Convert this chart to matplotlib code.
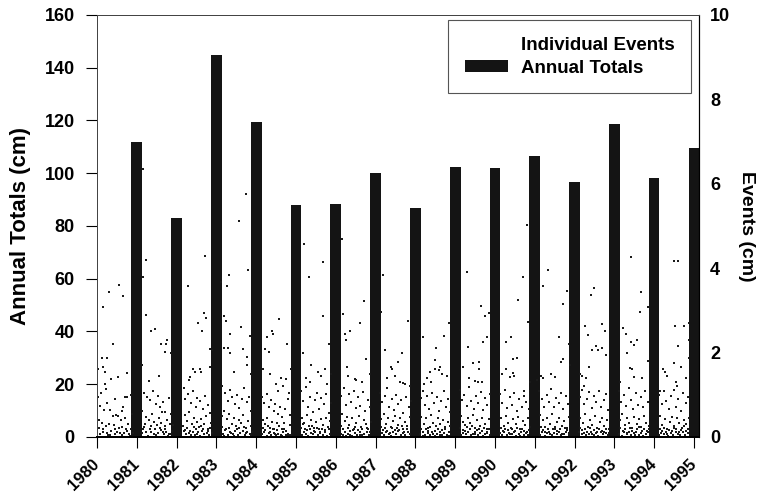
import matplotlib
matplotlib.use('Agg')
import matplotlib.pyplot as plt
from matplotlib.patches import Patch
from matplotlib.lines import Line2D

plt.rcParams['font.family'] = ['Liberation Sans', 'DejaVu Sans']
plt.rcParams['font.weight'] = 'bold'

# annual snowfall totals (cm), plotted at the end of each year
bar_years = [1981, 1982, 1983, 1984, 1985, 1986, 1987, 1988,
             1989, 1990, 1991, 1992, 1993, 1994, 1995]
annual_totals = [112, 83, 145, 119.5, 88, 88.5, 100, 87,
                 102.5, 102, 106.5, 96.5, 118.5, 98, 109.5]

# individual events: (fraction of year, depth in cm)
ev_1980 = [(0.15,3.08),(0.30,3.44),(0.55,3.60),(0.65,3.34),(0.40,2.20),(0.12,1.88),(0.26,1.87),
           (0.02,1.62),(0.15,1.66),(0.20,1.55),(0.75,1.52),(0.53,1.42),(0.36,1.38),(0.20,1.25),
           (0.22,1.14),(0.70,0.95),(0.75,0.94),(0.08,0.74),(0.18,0.64),(0.26,0.80),(0.32,0.64),
           (0.40,0.50),(0.48,0.52),(0.52,0.50),(0.60,0.40),(0.66,0.72),(0.70,0.45),(0.78,0.30),
           (0.05,0.40),(0.12,0.33),(0.22,0.26),(0.30,0.30),(0.42,0.28),(0.55,0.22),(0.08,0.07),
           (0.16,0.12),(0.28,0.05),(0.36,0.15),(0.46,0.08),(0.58,0.10),(0.64,0.04),(0.72,0.18),
           (0.80,0.06),(0.86,0.20),(0.88,0.55),(0.85,1.00),(0.03,0.95),(0.10,1.05),(0.45,0.90),
           (0.62,0.62),(0.06,0.22),(0.14,0.18),(0.24,0.10),(0.33,0.04),(0.44,0.20),(0.50,0.12),
           (0.62,0.24),(0.68,0.09),(0.76,0.14),(0.84,0.03),(0.90,0.10)]
ev_1981 = [(0.16,6.35),(0.22,4.20),(0.16,3.80),(0.24,2.90),(0.46,2.55),(0.36,2.50),(0.62,2.20),
           (0.70,2.02),(0.74,2.20),(0.77,2.30),(0.12,1.70),(0.30,1.32),(0.55,1.45),(0.85,2.00),
           (0.18,1.05),(0.25,0.95),(0.33,0.88),(0.40,1.10),(0.48,0.78),(0.52,0.98),(0.58,0.70),
           (0.66,0.82),(0.72,0.60),(0.80,0.92),(0.86,0.55),(0.14,0.62),(0.22,0.48),(0.30,0.40),
           (0.38,0.55),(0.44,0.35),(0.50,0.28),(0.56,0.45),(0.62,0.32),(0.70,0.25),(0.76,0.40),
           (0.84,0.30),(0.16,0.20),(0.24,0.12),(0.32,0.18),(0.42,0.08),(0.46,0.20),(0.54,0.10),
           (0.60,0.16),(0.68,0.06),(0.74,0.12),(0.82,0.08),(0.88,0.15),(0.20,0.30),(0.36,0.25),
           (0.64,0.60),(0.13,0.09),(0.19,0.24),(0.28,0.03),(0.35,0.11),(0.49,0.05),(0.58,0.22),
           (0.65,0.13),(0.71,0.18),(0.79,0.03),(0.86,0.06),(0.90,0.28)]
ev_1982 = [(0.28,3.58),(0.72,4.30),(0.69,2.93),(0.74,2.82),(0.54,2.70),(0.64,2.50),(0.83,2.08),
           (0.40,1.60),(0.46,1.55),(0.58,1.60),(0.62,1.55),(0.34,1.43),(0.30,1.35),(0.88,2.05),
           (0.85,1.65),(0.18,1.15),(0.22,0.90),(0.28,1.02),(0.36,0.80),(0.42,1.08),(0.48,0.70),
           (0.52,0.92),(0.60,0.85),(0.66,0.66),(0.72,0.98),(0.78,0.75),(0.84,0.58),(0.20,0.52),
           (0.26,0.38),(0.32,0.60),(0.38,0.30),(0.44,0.46),(0.50,0.36),(0.56,0.24),(0.62,0.42),
           (0.68,0.30),(0.74,0.50),(0.80,0.20),(0.86,0.34),(0.18,0.14),(0.24,0.06),(0.30,0.10),
           (0.36,0.04),(0.40,0.12),(0.46,0.05),(0.52,0.08),(0.58,0.03),(0.64,0.14),(0.70,0.06),
           (0.76,0.10),(0.82,0.04),(0.88,0.09),(0.15,0.25),(0.21,0.17),(0.27,0.21),(0.33,0.15),
           (0.43,0.23),(0.49,0.18),(0.55,0.12),(0.61,0.26),(0.67,0.19),(0.79,0.14),(0.85,0.22)]
ev_1983 = [(0.12,3.67),(0.27,3.58),(0.31,3.84),(0.58,5.12),(0.75,5.76),(0.80,3.96),(0.20,2.87),
           (0.25,2.75),(0.33,2.44),(0.18,2.10),(0.30,2.10),(0.35,2.00),(0.66,2.08),(0.77,1.90),
           (0.77,1.70),(0.62,2.60),(0.85,2.40),(0.88,1.50),(0.45,1.55),(0.15,1.20),(0.22,1.05),
           (0.28,0.85),(0.34,1.12),(0.40,0.95),(0.46,0.78),(0.52,1.00),(0.58,0.68),(0.64,0.90),
           (0.70,1.15),(0.76,0.82),(0.82,0.95),(0.86,0.62),(0.14,0.50),(0.20,0.62),(0.26,0.42),
           (0.32,0.55),(0.38,0.30),(0.44,0.44),(0.50,0.26),(0.56,0.40),(0.62,0.32),(0.68,0.52),
           (0.74,0.22),(0.80,0.38),(0.86,0.25),(0.16,0.08),(0.22,0.16),(0.28,0.05),(0.34,0.12),
           (0.42,0.06),(0.48,0.14),(0.54,0.04),(0.60,0.10),(0.66,0.15),(0.72,0.05),(0.78,0.12),
           (0.84,0.07),(0.90,0.13),(0.13,0.24),(0.19,0.03),(0.25,0.19),(0.31,0.22),(0.37,0.09),
           (0.45,0.03),(0.51,0.18),(0.57,0.21),(0.69,0.24),(0.75,0.09),(0.88,0.04)]
ev_1984 = [(0.58,2.79),(0.40,2.50),(0.43,2.45),(0.26,2.38),(0.21,2.08),(0.31,2.02),(0.78,2.20),
           (0.50,1.25),(0.55,1.10),(0.62,1.40),(0.68,1.22),(0.75,1.38),(0.80,0.90),(0.82,1.05),
           (0.18,1.60),(0.35,1.50),(0.88,1.60),(0.14,0.95),(0.20,0.80),(0.26,1.02),(0.32,0.70),
           (0.38,0.88),(0.44,0.62),(0.48,0.78),(0.56,0.55),(0.60,0.72),(0.66,0.48),(0.72,0.66),
           (0.86,0.52),(0.16,0.40),(0.22,0.30),(0.28,0.46),(0.34,0.22),(0.40,0.36),(0.46,0.18),
           (0.52,0.32),(0.58,0.26),(0.64,0.20),(0.70,0.34),(0.76,0.15),(0.84,0.28),(0.15,0.06),
           (0.20,0.12),(0.26,0.03),(0.32,0.09),(0.38,0.05),(0.44,0.10),(0.50,0.04),(0.56,0.08),
           (0.62,0.05),(0.68,0.11),(0.74,0.04),(0.80,0.07),(0.88,0.05),(0.17,0.22),(0.23,0.17),
           (0.29,0.25),(0.35,0.13),(0.41,0.20),(0.47,0.08),(0.53,0.16),(0.65,0.03),(0.71,0.19),
           (0.77,0.04),(0.83,0.04),(0.86,0.04)]
ev_1985 = [(0.19,4.57),(0.32,3.80),(0.69,4.14),(0.68,2.87),(0.17,2.00),(0.39,1.71),(0.83,2.21),
           (0.72,1.62),(0.62,1.45),(0.55,1.55),(0.35,1.30),(0.78,1.25),(0.25,1.40),(0.88,1.50),
           (0.12,1.10),(0.18,0.85),(0.24,1.18),(0.30,0.72),(0.36,0.95),(0.42,0.60),(0.47,0.88),
           (0.53,1.05),(0.58,0.66),(0.64,0.92),(0.70,0.78),(0.76,1.02),(0.82,0.56),(0.87,0.80),
           (0.15,0.45),(0.21,0.32),(0.27,0.52),(0.33,0.26),(0.39,0.40),(0.45,0.22),(0.51,0.36),
           (0.57,0.18),(0.63,0.42),(0.69,0.28),(0.75,0.46),(0.81,0.24),(0.86,0.38),(0.14,0.05),
           (0.19,0.12),(0.25,0.08),(0.31,0.03),(0.37,0.10),(0.43,0.06),(0.49,0.13),(0.55,0.04),
           (0.61,0.09),(0.67,0.05),(0.73,0.11),(0.79,0.03),(0.85,0.08),(0.13,0.22),(0.17,0.30),
           (0.22,0.20),(0.28,0.16),(0.34,0.18),(0.40,0.25),(0.46,0.14),(0.52,0.21),(0.60,0.13),
           (0.66,0.20),(0.72,0.17),(0.84,0.20)]
ev_1986 = [(0.15,4.68),(0.18,2.91),(0.36,2.50),(0.24,2.44),(0.26,2.30),(0.72,3.22),(0.62,2.69),
           (0.77,1.85),(0.28,1.66),(0.49,1.37),(0.52,1.35),(0.30,1.45),(0.85,1.50),(0.66,1.30),
           (0.13,0.98),(0.20,1.15),(0.26,0.76),(0.33,1.02),(0.39,0.84),(0.45,1.10),(0.50,0.68),
           (0.56,0.95),(0.62,0.74),(0.68,1.06),(0.74,0.62),(0.80,0.88),(0.86,0.70),(0.16,0.55),
           (0.22,0.38),(0.28,0.48),(0.34,0.28),(0.40,0.44),(0.46,0.20),(0.52,0.34),(0.58,0.50),
           (0.64,0.24),(0.70,0.40),(0.76,0.30),(0.82,0.18),(0.88,0.35),(0.12,0.08),(0.18,0.04),
           (0.24,0.12),(0.30,0.06),(0.36,0.14),(0.42,0.03),(0.48,0.09),(0.54,0.05),(0.60,0.12),
           (0.66,0.04),(0.72,0.08),(0.78,0.13),(0.84,0.05),(0.14,0.27),(0.19,0.20),(0.25,0.03),
           (0.31,0.22),(0.37,0.05),(0.43,0.16),(0.49,0.24),(0.55,0.16),(0.61,0.04),(0.67,0.18),
           (0.79,0.22),(0.87,0.12)]
ev_1987 = [(0.19,3.83),(0.14,2.96),(0.24,2.05),(0.39,1.66),(0.42,1.62),(0.56,1.78),(0.81,2.76),
           (0.66,1.98),(0.62,1.30),(0.70,1.28),(0.74,1.25),(0.30,1.40),(0.48,1.45),(0.86,1.20),
           (0.12,1.05),(0.17,0.82),(0.23,0.96),(0.29,1.15),(0.35,0.70),(0.41,0.90),(0.46,0.64),
           (0.52,1.00),(0.57,0.78),(0.64,0.88),(0.69,0.58),(0.77,0.95),(0.83,0.72),(0.88,0.86),
           (0.14,0.42),(0.20,0.55),(0.26,0.30),(0.32,0.46),(0.38,0.24),(0.44,0.38),(0.50,0.50),
           (0.56,0.28),(0.62,0.44),(0.68,0.20),(0.74,0.36),(0.80,0.26),(0.86,0.48),(0.15,0.10),
           (0.21,0.04),(0.27,0.13),(0.33,0.07),(0.39,0.03),(0.45,0.11),(0.51,0.06),(0.57,0.14),
           (0.63,0.04),(0.69,0.09),(0.75,0.05),(0.81,0.12),(0.87,0.06),(0.13,0.24),(0.18,0.17),
           (0.24,0.21),(0.30,0.15),(0.36,0.10),(0.42,0.22),(0.48,0.17),(0.54,0.22),(0.60,0.16),
           (0.66,0.25),(0.72,0.13),(0.78,0.18)]
ev_1988 = [(0.19,2.36),(0.52,2.10),(0.71,2.39),(0.84,2.69),(0.49,1.82),(0.62,1.65),(0.50,1.60),
           (0.60,1.58),(0.36,1.55),(0.68,1.50),(0.30,1.40),(0.40,1.30),(0.80,1.45),(0.22,1.25),
           (0.13,0.92),(0.18,1.10),(0.24,0.75),(0.30,0.98),(0.35,0.66),(0.42,1.04),(0.47,0.80),
           (0.54,0.94),(0.59,0.62),(0.65,0.86),(0.71,1.08),(0.76,0.70),(0.82,0.90),(0.87,0.60),
           (0.15,0.48),(0.21,0.30),(0.27,0.44),(0.33,0.22),(0.39,0.52),(0.45,0.34),(0.51,0.26),
           (0.57,0.46),(0.63,0.30),(0.69,0.40),(0.75,0.18),(0.81,0.36),(0.86,0.25),(0.12,0.06),
           (0.19,0.12),(0.25,0.04),(0.31,0.10),(0.37,0.05),(0.43,0.13),(0.49,0.03),(0.55,0.08),
           (0.61,0.11),(0.67,0.04),(0.73,0.09),(0.79,0.05),(0.85,0.12),(0.14,0.20),(0.20,0.03),
           (0.26,0.18),(0.32,0.14),(0.38,0.23),(0.44,0.06),(0.50,0.15),(0.56,0.20),(0.62,0.04),
           (0.68,0.16),(0.74,0.23),(0.80,0.02),(0.84,0.02)]
ev_1989 = [(0.30,3.90),(0.64,3.10),(0.76,2.87),(0.86,2.93),(0.70,2.25),(0.81,2.38),(0.32,2.13),
           (0.45,1.75),(0.60,1.78),(0.60,1.62),(0.20,1.67),(0.35,1.40),(0.58,1.30),(0.68,1.30),
           (0.50,1.32),(0.12,1.12),(0.18,0.88),(0.23,1.00),(0.29,0.74),(0.36,1.18),(0.41,0.86),
           (0.47,0.66),(0.53,0.96),(0.58,0.80),(0.64,1.06),(0.70,0.64),(0.75,0.92),(0.81,0.76),
           (0.87,1.02),(0.14,0.50),(0.20,0.36),(0.26,0.28),(0.32,0.46),(0.38,0.32),(0.44,0.52),
           (0.50,0.22),(0.56,0.40),(0.62,0.26),(0.68,0.44),(0.74,0.30),(0.80,0.20),(0.86,0.42),
           (0.15,0.04),(0.21,0.10),(0.27,0.06),(0.33,0.13),(0.39,0.04),(0.45,0.08),(0.51,0.12),
           (0.57,0.05),(0.63,0.10),(0.69,0.03),(0.75,0.08),(0.81,0.13),(0.87,0.05),(0.13,0.22),
           (0.19,0.17),(0.25,0.14),(0.31,0.24),(0.37,0.18),(0.43,0.25),(0.49,0.06),(0.55,0.17),
           (0.61,0.20),(0.67,0.15),(0.73,0.22),(0.79,0.10),(0.85,0.20)]
ev_1990 = [(0.80,5.02),(0.70,3.78),(0.59,3.25),(0.82,2.72),(0.40,2.36),(0.27,2.24),(0.56,1.86),
           (0.46,1.84),(0.18,1.50),(0.45,1.52),(0.48,1.45),(0.38,1.42),(0.72,1.10),(0.28,1.60),
           (0.88,1.30),(0.13,1.02),(0.19,0.80),(0.25,1.12),(0.31,0.68),(0.37,0.94),(0.43,0.76),
           (0.49,1.04),(0.55,0.62),(0.61,0.90),(0.67,0.72),(0.73,0.98),(0.79,0.84),(0.85,0.66),
           (0.16,0.44),(0.22,0.26),(0.28,0.50),(0.34,0.34),(0.40,0.22),(0.46,0.42),(0.52,0.30),
           (0.58,0.48),(0.64,0.20),(0.70,0.38),(0.76,0.28),(0.82,0.46),(0.88,0.24),(0.12,0.09),
           (0.18,0.05),(0.24,0.13),(0.30,0.04),(0.36,0.10),(0.42,0.06),(0.48,0.12),(0.54,0.03),
           (0.60,0.08),(0.66,0.11),(0.72,0.05),(0.78,0.09),(0.84,0.04),(0.14,0.22),(0.20,0.14),
           (0.26,0.20),(0.32,0.16),(0.38,0.07),(0.44,0.18),(0.50,0.15),(0.56,0.22),(0.62,0.03),
           (0.68,0.19),(0.74,0.14),(0.80,0.12),(0.86,0.17)]
ev_1991 = [(0.34,3.96),(0.20,3.58),(0.72,3.14),(0.80,3.46),(0.62,2.37),(0.67,1.78),(0.70,1.85),
           (0.15,1.45),(0.22,1.40),(0.05,1.35),(0.40,1.50),(0.52,1.42),(0.85,2.20),(0.88,1.70),
           (0.12,1.08),(0.18,0.90),(0.24,0.72),(0.30,1.00),(0.36,0.84),(0.42,1.14),(0.48,0.70),
           (0.54,0.92),(0.60,0.80),(0.66,1.04),(0.72,0.66),(0.78,0.96),(0.84,0.78),(0.14,0.52),
           (0.20,0.40),(0.26,0.24),(0.32,0.46),(0.38,0.30),(0.44,0.54),(0.50,0.20),(0.56,0.36),
           (0.62,0.44),(0.68,0.26),(0.74,0.38),(0.80,0.22),(0.86,0.48),(0.13,0.05),(0.19,0.11),
           (0.25,0.03),(0.31,0.09),(0.37,0.13),(0.43,0.05),(0.49,0.10),(0.55,0.06),(0.61,0.12),
           (0.67,0.04),(0.73,0.08),(0.79,0.11),(0.85,0.05),(0.15,0.24),(0.21,0.16),(0.27,0.12),
           (0.33,0.20),(0.39,0.07),(0.45,0.18),(0.51,0.23),(0.57,0.14),(0.63,0.19),(0.69,0.08),
           (0.75,0.21),(0.81,0.16),(0.87,0.10)]
ev_1992 = [(0.48,3.53),(0.42,3.36),(0.27,2.63),(0.69,2.68),(0.77,2.50),(0.33,2.42),(0.55,2.15),
           (0.45,2.05),(0.58,2.05),(0.70,2.10),(0.78,1.95),(0.37,1.66),(0.30,1.40),(0.25,1.20),
           (0.15,1.50),(0.20,1.45),(0.13,0.95),(0.19,1.12),(0.25,0.78),(0.31,0.90),(0.37,1.06),
           (0.43,0.68),(0.49,0.98),(0.55,0.82),(0.61,1.10),(0.67,0.72),(0.73,0.88),(0.79,1.02),
           (0.85,0.64),(0.15,0.46),(0.21,0.32),(0.27,0.54),(0.33,0.24),(0.39,0.40),(0.45,0.28),
           (0.51,0.50),(0.57,0.22),(0.63,0.36),(0.69,0.46),(0.75,0.26),(0.81,0.40),(0.87,0.20),
           (0.12,0.12),(0.18,0.06),(0.24,0.10),(0.30,0.04),(0.36,0.08),(0.42,0.13),(0.48,0.05),
           (0.54,0.09),(0.60,0.03),(0.66,0.11),(0.72,0.06),(0.78,0.10),(0.84,0.04),(0.14,0.22),
           (0.20,0.16),(0.26,0.19),(0.32,0.12),(0.38,0.21),(0.44,0.08),(0.50,0.16),(0.56,0.13),
           (0.62,0.20),(0.68,0.15),(0.74,0.12),(0.80,0.18),(0.86,0.09)]
ev_1993 = [(0.42,4.27),(0.68,3.44),(0.85,3.09),(0.64,2.95),(0.23,2.58),(0.30,2.44),(0.42,2.25),
           (0.50,2.18),(0.58,2.30),(0.33,1.99),(0.85,1.79),(0.39,1.63),(0.50,1.42),(0.45,1.62),
           (0.15,1.30),(0.70,1.40),(0.12,1.10),(0.18,0.84),(0.24,1.00),(0.30,0.74),(0.36,1.16),
           (0.42,0.88),(0.48,0.66),(0.54,1.04),(0.60,0.76),(0.66,0.94),(0.72,0.70),(0.78,1.08),
           (0.84,0.82),(0.14,0.40),(0.20,0.54),(0.26,0.28),(0.32,0.44),(0.38,0.34),(0.44,0.22),
           (0.50,0.48),(0.56,0.30),(0.62,0.42),(0.68,0.24),(0.74,0.50),(0.80,0.32),(0.86,0.26),
           (0.13,0.08),(0.19,0.03),(0.25,0.11),(0.31,0.06),(0.37,0.13),(0.43,0.04),(0.49,0.09),
           (0.55,0.12),(0.61,0.05),(0.67,0.10),(0.73,0.03),(0.79,0.07),(0.85,0.12),(0.15,0.21),
           (0.21,0.14),(0.27,0.18),(0.33,0.09),(0.39,0.22),(0.45,0.15),(0.51,0.05),(0.57,0.19),
           (0.63,0.24),(0.69,0.15),(0.75,0.20),(0.81,0.14),(0.87,0.18)]
ev_1994 = [(0.50,4.18),(0.60,4.17),(0.53,2.64),(0.76,2.63),(0.60,2.16),(0.50,1.75),(0.67,1.66),
           (0.87,2.70),(0.87,2.30),(0.87,1.87),(0.22,1.60),(0.27,1.55),(0.33,1.45),(0.55,1.30),
           (0.58,1.22),(0.80,1.40),(0.15,1.10),(0.13,1.00),(0.19,0.78),(0.25,1.08),(0.31,0.86),
           (0.37,0.66),(0.43,0.96),(0.49,1.12),(0.55,0.72),(0.61,0.90),(0.67,0.62),(0.73,1.04),
           (0.79,0.80),(0.85,0.94),(0.15,0.50),(0.21,0.28),(0.27,0.42),(0.33,0.20),(0.39,0.36),
           (0.45,0.48),(0.51,0.26),(0.57,0.44),(0.63,0.32),(0.69,0.22),(0.75,0.40),(0.81,0.30),
           (0.87,0.46),(0.12,0.04),(0.18,0.10),(0.24,0.06),(0.30,0.13),(0.36,0.03),(0.42,0.09),
           (0.48,0.05),(0.54,0.12),(0.60,0.07),(0.66,0.04),(0.72,0.11),(0.78,0.05),(0.84,0.09),
           (0.14,0.20),(0.20,0.15),(0.26,0.22),(0.32,0.08),(0.38,0.17),(0.44,0.14),(0.50,0.21),
           (0.56,0.18),(0.62,0.12),(0.68,0.17),(0.74,0.25),(0.80,0.15),(0.86,0.20)]

event_years = [1980, 1981, 1982, 1983, 1984, 1985, 1986, 1987,
               1988, 1989, 1990, 1991, 1992, 1993, 1994]
event_lists = [ev_1980, ev_1981, ev_1982, ev_1983, ev_1984, ev_1985, ev_1986, ev_1987,
               ev_1988, ev_1989, ev_1990, ev_1991, ev_1992, ev_1993, ev_1994]

ev_t, ev_cm = [], []
for yr, evs in zip(event_years, event_lists):
    for frac, cm in evs:
        ev_t.append(yr + frac)
        ev_cm.append(cm)

fig = plt.figure(figsize=(7.64, 4.98), dpi=100)
ax = fig.add_axes([0.127, 0.1225, 0.788, 0.8475])
ax2 = ax.twinx()

ax.bar(bar_years, annual_totals, width=0.27, color='#141414', zorder=2)
ax2.scatter(ev_t, ev_cm, s=4.5, marker='s', color='#1a1a1a', linewidths=0)

ax.set_xlim(1980, 1995.13)
ax.set_ylim(0, 160)
ax2.set_ylim(0, 10)
ax.set_yticks(range(0, 161, 20))
ax2.set_yticks(range(0, 11, 2))
ax.set_xticks(range(1980, 1996))
ax.set_xticklabels([str(y) for y in range(1980, 1996)], rotation=45,
                   ha='right', va='center', rotation_mode='anchor')

ax.tick_params(axis='y', direction='out', length=8, width=0.8, labelsize=13, pad=8)
ax.tick_params(axis='x', direction='out', length=8, width=0.8, labelsize=12, pad=10)
ax2.tick_params(axis='y', length=0, labelsize=13, pad=8)

for a in (ax, ax2):
    a.spines['top'].set_linewidth(0.7)
    a.spines['top'].set_color('#444444')
    a.spines['left'].set_linewidth(0.7)
    a.spines['left'].set_color('#444444')
    a.spines['right'].set_linewidth(0.8)
    a.spines['bottom'].set_linewidth(1.4)

ax.set_ylabel('Annual Totals (cm)', fontsize=16, fontweight='bold', labelpad=10)
ax2.set_ylabel('Events (cm)', fontsize=14, fontweight='bold', rotation=-90, labelpad=18)

handles = [Line2D([], [], linestyle='none', marker='s', markersize=0, color='#1a1a1a'),
           Patch(facecolor='#141414', edgecolor='none')]
leg = ax2.legend(handles, ['Individual Events', 'Annual Totals'], loc='upper right',
                 bbox_to_anchor=(0.987, 0.988), borderaxespad=0, fancybox=False,
                 edgecolor='#555555', framealpha=1, prop={'weight': 'bold', 'size': 13.5},
                 handlelength=2.3, handleheight=0.62, borderpad=0.9, labelspacing=0.3,
                 handletextpad=0.65)
leg.get_frame().set_linewidth(0.8)

fig.savefig('out.png', dpi=100)
